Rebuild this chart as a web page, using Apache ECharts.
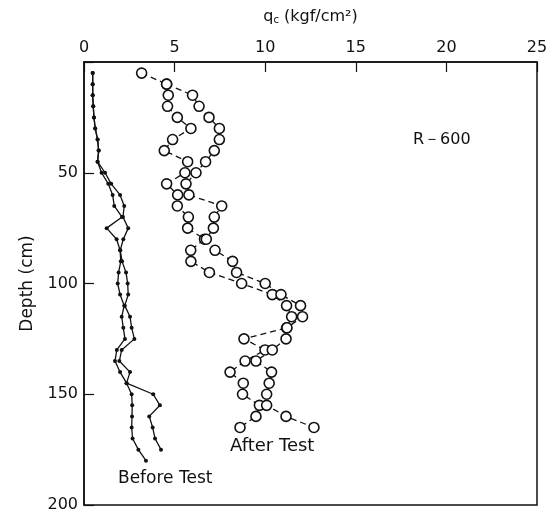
<!DOCTYPE html>
<html>
<head>
<meta charset="utf-8">
<script src="https://cdn.jsdelivr.net/npm/echarts@6/dist/echarts.min.js"></script>
<style>
  html, body { margin: 0; padding: 0; background: #fff; }
  #chart { width: 555px; height: 516px; }
</style>
</head>
<body>
<div id="chart"></div>
<script>
// depth in cm, qc in kgf/cm2
const depthsBefore1 = [5, 10, 15, 20, 25, 30, 35, 40, 45, 50, 55, 60, 65, 70, 75, 80, 85, 90,
  95, 100, 105, 110, 115, 120, 125, 130, 135, 140, 145, 150, 155, 160, 165, 170, 175, 180];
const qcBefore1 = [0.48, 0.48, 0.48, 0.51, 0.55, 0.62, 0.75, 0.81, 0.75, 0.97, 1.34, 1.58, 1.67, 2.1, 1.25, 1.8, 1.99, 2.03,
  1.91, 1.86, 1.99, 2.22, 2.08, 2.17, 2.26, 1.81, 1.71, 1.99, 2.35, 2.63, 2.66, 2.65, 2.63, 2.68, 3.0, 3.42];

const depthsBefore2 = [5, 10, 15, 20, 25, 30, 35, 40, 45, 50, 55, 60, 65, 70, 75, 80, 85, 90,
  95, 100, 105, 110, 115, 120, 125, 130, 135, 140, 145, 150, 155, 160, 165, 170, 175];
const qcBefore2 = [0.48, 0.48, 0.48, 0.51, 0.55, 0.62, 0.75, 0.81, 0.75, 1.16, 1.5, 1.99, 2.22, 2.15, 2.44, 2.17, 2.0, 2.1,
  2.32, 2.41, 2.44, 2.25, 2.54, 2.63, 2.78, 2.08, 1.95, 2.54, 2.35, 3.82, 4.19, 3.6, 3.79, 3.92, 4.25];

const depthsAfter1 = [5, 10, 15, 20, 25, 30, 35, 40, 45, 50, 55, 60, 65, 70, 75, 80, 85, 90,
  95, 100, 105, 110, 115, 120, 125, 130, 135, 140, 145, 150, 155, 160, 165];
const qcAfter1 = [3.18, 4.56, 4.65, 4.61, 5.15, 5.9, 4.89, 4.43, 5.72, 5.57, 4.56, 5.17, 5.15, 5.76, 5.72, 6.65, 5.89, 5.9,
  6.92, 8.7, 10.39, 11.18, 11.46, 11.18, 8.83, 9.99, 8.89, 8.06, 8.79, 8.75, 9.68, 9.49, 8.61];

const depthsAfter2 = [10, 15, 20, 25, 30, 35, 40, 45, 50, 55, 60, 65, 70, 75, 80, 85, 90,
  95, 100, 105, 110, 115, 120, 125, 130, 135, 140, 145, 150, 155, 160, 165];
const qcAfter2 = [4.56, 5.99, 6.35, 6.9, 7.47, 7.47, 7.19, 6.71, 6.18, 5.63, 5.79, 7.6, 7.19, 7.14, 6.75, 7.23, 8.2,
  8.42, 10.0, 10.87, 11.95, 12.06, 11.2, 11.15, 10.39, 9.49, 10.35, 10.22, 10.08, 10.08, 11.15, 12.69];

const qcTicks = [0, 5, 10, 15, 20, 25];
const depthTicks = [0, 50, 100, 150, 200];

const pairs = (qs, ds) => qs.map((q, i) => [q, ds[i]]);

const FONT = "DejaVu Sans";
const INK = "#111";

const chart = echarts.init(document.getElementById("chart"));

const beforeStyle = {
    type: "line",
    symbol: "circle",
    symbolSize: 4,
    itemStyle: {color: INK},
    lineStyle: {color: INK, width: 1.3},
    animation: false,
};

const afterStyle = {
    type: "line",
    symbol: "circle",
    symbolSize: 10,
    itemStyle: {color: "#fff", borderColor: INK, borderWidth: 1.6},
    lineStyle: {color: INK, width: 1.3, type: [6, 4]},
    animation: false,
};

const option = {
    backgroundColor: "#fff",
    grid: {
        left: 84,
        right: 18,
        top: 62,
        bottom: 11,
        show: true,
        borderColor: INK,
        borderWidth: 1.5,
    },
    xAxis: {
        type: "value",
        position: "top",
        min: qcTicks[0],
        max: qcTicks[qcTicks.length - 1],
        interval: 5,
        name: "{q|q}{c|c} (kgf/cm²)",
        nameLocation: "middle",
        nameGap: 37,
        nameTextStyle: {
            rich: {
                q: {fontFamily: FONT, fontSize: 16, color: INK},
                c: {fontFamily: FONT, fontSize: 10, color: INK, verticalAlign: "bottom", padding: [7, 0, 0, 0]},
            },
            fontFamily: FONT,
            fontSize: 16,
            color: INK,
        },
        axisLine: {show: true, lineStyle: {color: INK, width: 1.5}},
        axisTick: {show: true, inside: true, length: 10, lineStyle: {color: INK, width: 1.2}},
        axisLabel: {fontFamily: FONT, fontSize: 16, color: INK, margin: 6},
        splitLine: {show: false},
    },
    yAxis: {
        type: "value",
        inverse: true,
        min: depthTicks[0],
        max: depthTicks[depthTicks.length - 1],
        interval: 50,
        name: "Depth (cm)",
        nameLocation: "middle",
        nameGap: 48,
        nameTextStyle: {fontFamily: FONT, fontSize: 17, color: INK},
        axisLine: {show: true, lineStyle: {color: INK, width: 1.5}},
        axisTick: {show: true, inside: true, length: 10, lineStyle: {color: INK, width: 1.2}},
        axisLabel: {
            fontFamily: FONT,
            fontSize: 16,
            color: INK,
            margin: 6,
            formatter: (v) => (v === 0 ? "" : String(v)),
        },
        splitLine: {show: false},
    },
    graphic: [
        {type: "text", left: 413, top: 132, style: {text: "R－600", fontFamily: FONT, fontSize: 16, fill: INK}},
        {type: "text", left: 118, top: 470, style: {text: "Before Test", fontFamily: FONT, fontSize: 17, fill: INK}},
        {type: "text", left: 230, top: 437, style: {text: "After Test", fontFamily: FONT, fontSize: 18, fill: INK}},
    ],
    series: [
        {...beforeStyle, name: "Before Test 1", data: pairs(qcBefore1, depthsBefore1)},
        {...beforeStyle, name: "Before Test 2", data: pairs(qcBefore2, depthsBefore2)},
        {...afterStyle, name: "After Test 1", data: pairs(qcAfter1, depthsAfter1)},
        {...afterStyle, name: "After Test 2", data: pairs(qcAfter2, depthsAfter2)},
    ],
};

chart.setOption(option);
</script>
</body>
</html>
